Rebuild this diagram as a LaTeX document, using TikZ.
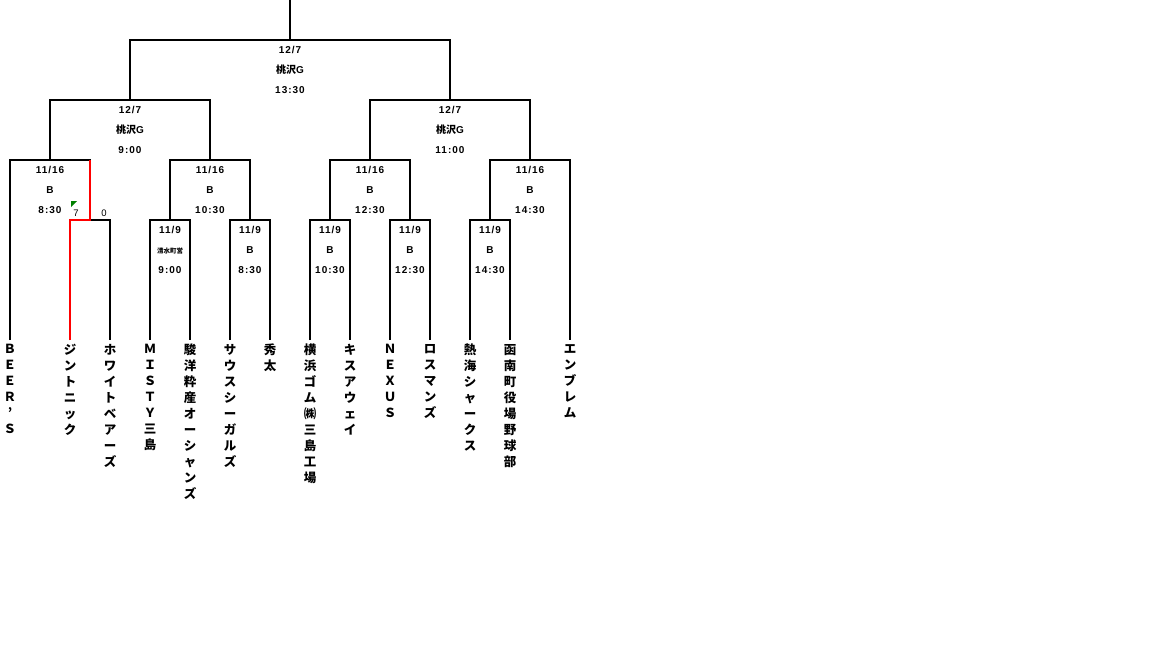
\documentclass[tikz,border=0pt]{standalone}
\usepackage{fontspec}
\setmainfont{Liberation Sans}
\newfontfamily\lab{Liberation Sans}[LetterSpace=10]
\newfontfamily\jp{Noto Sans CJK JP}
\begin{document}
\begin{tikzpicture}[x=1pt,y=-1pt,
	line/.style={line width=2pt},
	win/.style={line width=2pt,red},
	info/.style={align=center,inner sep=0pt,font=\lab\bfseries\fontsize{10}{20}\selectfont},
	team/.style={align=center,inner sep=0pt,anchor=north,font=\jp\bfseries\fontsize{12.5}{16}\selectfont},
	score/.style={inner sep=0pt,font=\fontsize{9.5}{9.5}\selectfont}]
\useasboundingbox (0,0) rectangle (1152,648);
\coordinate (top) at (290,0);
\coordinate (fin) at (290,40);
\coordinate (sL) at (130,100);
\coordinate (sR) at (450,100);
\coordinate (q1) at (50,160);
\coordinate (q2) at (210,160);
\coordinate (q3) at (370,160);
\coordinate (q4) at (530,160);
\coordinate (r1) at (90,220);
\coordinate (r2) at (170,220);
\coordinate (r3) at (250,220);
\coordinate (r4) at (330,220);
\coordinate (r5) at (410,220);
\coordinate (r6) at (490,220);
\coordinate (t1) at (10,340);
\coordinate (t2) at (70,340);
\coordinate (t3) at (110,340);
\coordinate (t4) at (150,340);
\coordinate (t5) at (190,340);
\coordinate (t6) at (230,340);
\coordinate (t7) at (270,340);
\coordinate (t8) at (310,340);
\coordinate (t9) at (350,340);
\coordinate (t10) at (390,340);
\coordinate (t11) at (430,340);
\coordinate (t12) at (470,340);
\coordinate (t13) at (510,340);
\coordinate (t14) at (570,340);
\draw[line] (top) -- (fin);
\draw[line] (sL) |- (fin) -| (sR);
\draw[line] (q1) |- (sL) -| (q2);
\draw[line] (q3) |- (sR) -| (q4);
\draw[line] (t1) |- (q1) -| (r1);
\draw[line] (r2) |- (q2) -| (r3);
\draw[line] (r4) |- (q3) -| (r5);
\draw[line] (r6) |- (q4) -| (t14);
\draw[line] (t2) |- (r1) -| (t3);
\draw[line] (t4) |- (r2) -| (t5);
\draw[line] (t6) |- (r3) -| (t7);
\draw[line] (t8) |- (r4) -| (t9);
\draw[line] (t10) |- (r5) -| (t11);
\draw[line] (t12) |- (r6) -| (t13);
\draw[win] (t2) |- (r1) -- (r1 |- q1);
\node[info] (mfin) at (290,70) {12/7\\{\jp 桃沢}G\\13:30};
\node[info] (msL) at (130,130) {12/7\\{\jp 桃沢}G\\9:00};
\node[info] (msR) at (450,130) {12/7\\{\jp 桃沢}G\\11:00};
\node[info] (mq1) at (50,190) {11/16\\B\\8:30};
\node[info] (mq2) at (210,190) {11/16\\B\\10:30};
\node[info] (mq3) at (370,190) {11/16\\B\\12:30};
\node[info] (mq4) at (530,190) {11/16\\B\\14:30};
\node[info] (mr2) at (170,250) {11/9\\{\jp\fontsize{6.5}{20}\selectfont 清水町営}\\9:00};
\node[info] (mr3) at (250,250) {11/9\\B\\8:30};
\node[info] (mr4) at (330,250) {11/9\\B\\10:30};
\node[info] (mr5) at (410,250) {11/9\\B\\12:30};
\node[info] (mr6) at (490,250) {11/9\\B\\14:30};
\node[score] (s1) at (76,213) {7};
\node[score] (s2) at (104,213) {0};
\fill[green!50!black] (71,201) -- (77,201) -- (71,207) -- cycle;
\node[team] (n1) at (10,344) {Ｂ\\Ｅ\\Ｅ\\Ｒ\\’\\Ｓ};
\node[team] (n2) at (70,344) {ジ\\ン\\ト\\ニ\\ッ\\ク};
\node[team] (n3) at (110,344) {ホ\\ワ\\イ\\ト\\ベ\\ア\\ー\\ズ};
\node[team] (n4) at (150,344) {Ｍ\\Ｉ\\Ｓ\\Ｔ\\Ｙ\\三\\島};
\node[team] (n5) at (190,344) {駿\\洋\\粋\\産\\オ\\ー\\シ\\ャ\\ン\\ズ};
\node[team] (n6) at (230,344) {サ\\ウ\\ス\\シ\\ー\\ガ\\ル\\ズ};
\node[team] (n7) at (270,344) {秀\\太};
\node[team] (n8) at (310,344) {横\\浜\\ゴ\\ム\\㈱\\三\\島\\工\\場};
\node[team] (n9) at (350,344) {キ\\ス\\ア\\ウ\\ェ\\イ};
\node[team] (n10) at (390,344) {Ｎ\\Ｅ\\Ｘ\\Ｕ\\Ｓ};
\node[team] (n11) at (430,344) {ロ\\ス\\マ\\ン\\ズ};
\node[team] (n12) at (470,344) {熱\\海\\シ\\ャ\\ー\\ク\\ス};
\node[team] (n13) at (510,344) {函\\南\\町\\役\\場\\野\\球\\部};
\node[team] (n14) at (570,344) {エ\\ン\\ブ\\レ\\ム};
\end{tikzpicture}
\end{document}
